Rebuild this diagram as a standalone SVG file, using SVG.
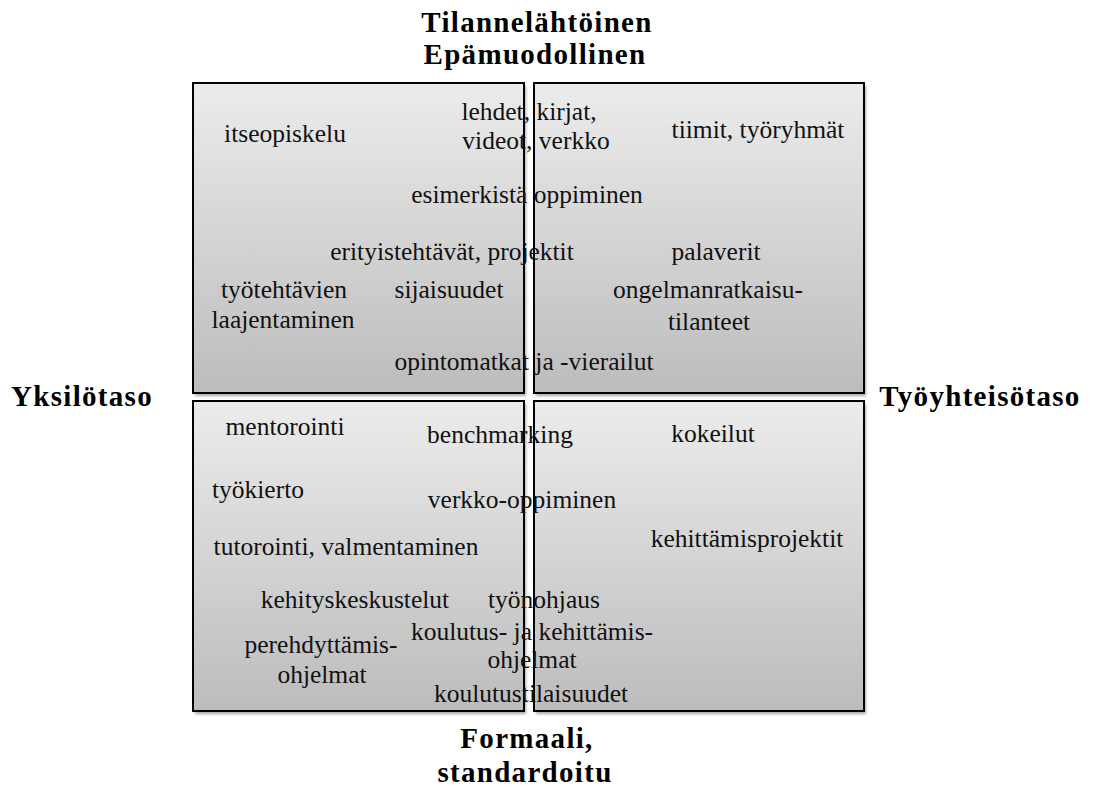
<svg xmlns="http://www.w3.org/2000/svg" width="1099" height="788" viewBox="0 0 1099 788">
  <defs>
    <linearGradient id="quadFill" x1="0" y1="0" x2="0" y2="1">
      <stop offset="0" stop-color="#ececec"/>
      <stop offset="1" stop-color="#bcbcbc"/>
    </linearGradient>
    <filter id="soft" x="-5%" y="-5%" width="110%" height="110%">
      <feGaussianBlur stdDeviation="1.5"/>
    </filter>
  </defs>
  <style>
    .quad { fill: url(#quadFill); stroke: #000; stroke-width: 2; }
    .shadow { fill: #000; opacity: 0.35; filter: url(#soft); }
    .item { font-family: "Liberation Serif", "Times New Roman", serif; font-size: 25.5px; fill: #111; text-anchor: middle; }
    .axis { font-family: "Liberation Serif", "Times New Roman", serif; font-size: 29px; font-weight: bold; fill: #000; text-anchor: middle; letter-spacing: 1.3px; }
  </style>

  <rect width="1099" height="788" fill="#fff"/>

  <!-- quadrants -->
  <g id="quad-top-left">
    <rect class="shadow" x="195" y="86" width="331" height="310"/>
    <rect class="quad" x="193" y="83" width="331" height="310"/>
  </g>
  <g id="quad-top-right">
    <rect class="shadow" x="536" y="86" width="330" height="310"/>
    <rect class="quad" x="534" y="83" width="330" height="310"/>
  </g>
  <g id="quad-bottom-left">
    <rect class="shadow" x="195" y="404" width="331" height="310"/>
    <rect class="quad" x="193" y="401" width="331" height="310"/>
  </g>
  <g id="quad-bottom-right">
    <rect class="shadow" x="536" y="404" width="330" height="310"/>
    <rect class="quad" x="534" y="401" width="330" height="310"/>
  </g>

  <g id="connectors"/>

  <!-- axis labels -->
  <g id="axis-top">
    <text class="axis" x="537" y="32">Tilannelähtöinen</text>
    <text class="axis" x="535" y="64">Epämuodollinen</text>
  </g>
  <g id="axis-left">
    <text class="axis" x="82" y="406">Yksilötaso</text>
  </g>
  <g id="axis-right">
    <text class="axis" x="980" y="406">Työyhteisötaso</text>
  </g>
  <g id="axis-bottom">
    <text class="axis" x="527" y="748">Formaali,</text>
    <text class="axis" x="525" y="782">standardoitu</text>
  </g>

  <!-- learning methods -->
  <g id="items-top">
    <text class="item" x="285" y="142">itseopiskelu</text>
    <text class="item" x="529" y="120">lehdet, kirjat,</text>
    <text class="item" x="536" y="149">videot, verkko</text>
    <text class="item" x="758" y="138">tiimit, työryhmät</text>
    <text class="item" x="527" y="203">esimerkistä oppiminen</text>
    <text class="item" x="452" y="260">erityistehtävät, projektit</text>
    <text class="item" x="716" y="260">palaverit</text>
    <text class="item" x="284" y="298">työtehtävien</text>
    <text class="item" x="283" y="328">laajentaminen</text>
    <text class="item" x="449" y="298">sijaisuudet</text>
    <text class="item" x="708" y="298">ongelmanratkaisu-</text>
    <text class="item" x="709" y="330">tilanteet</text>
    <text class="item" x="524" y="370">opintomatkat ja -vierailut</text>
  </g>
  <g id="items-bottom">
    <text class="item" x="285" y="435">mentorointi</text>
    <text class="item" x="500" y="443">benchmarking</text>
    <text class="item" x="713" y="442">kokeilut</text>
    <text class="item" x="258" y="498">työkierto</text>
    <text class="item" x="522" y="508">verkko-oppiminen</text>
    <text class="item" x="747" y="547">kehittämisprojektit</text>
    <text class="item" x="346" y="555">tutorointi, valmentaminen</text>
    <text class="item" x="355" y="608">kehityskeskustelut</text>
    <text class="item" x="544" y="608">työnohjaus</text>
    <text class="item" x="532" y="640">koulutus- ja kehittämis-</text>
    <text class="item" x="532" y="668">ohjelmat</text>
    <text class="item" x="321" y="653">perehdyttämis-</text>
    <text class="item" x="322" y="683">ohjelmat</text>
    <text class="item" x="531" y="702">koulutustilaisuudet</text>
  </g>
</svg>
